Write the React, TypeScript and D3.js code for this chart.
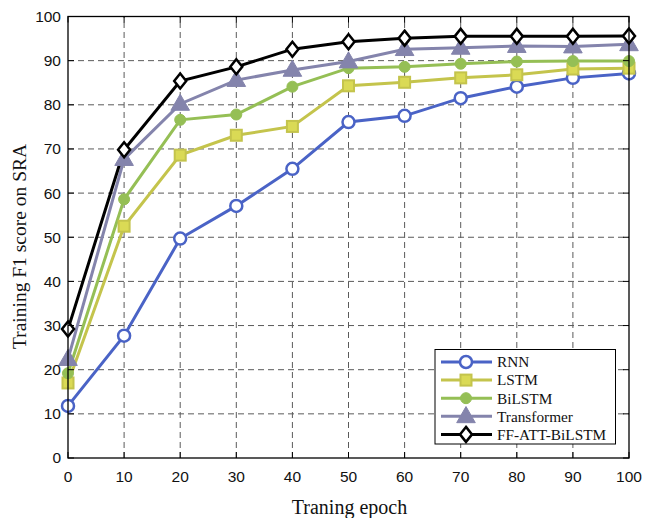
import React from "react";
import * as d3 from "d3";

const epochs = [0, 10, 20, 30, 40, 50, 60, 70, 80, 90, 100];
const rnn = [11.8, 27.7, 49.7, 57.1, 65.5, 76.1, 77.5, 81.5, 84.1, 86.1, 87.1];
const lstm = [17.0, 52.5, 68.6, 73.1, 75.1, 84.3, 85.1, 86.1, 86.8, 88.1, 88.3];
const bilstm = [19.2, 58.6, 76.6, 77.8, 84.1, 88.3, 88.6, 89.3, 89.8, 89.9, 89.9];
const transformer = [22.4, 67.7, 80.2, 85.6, 87.9, 89.8, 92.6, 92.9, 93.3, 93.2, 93.7];
const ffAttBilstm = [29.2, 69.8, 85.4, 88.6, 92.6, 94.3, 95.1, 95.5, 95.5, 95.5, 95.6];
const seriesNames = ["RNN", "LSTM", "BiLSTM", "Transformer", "FF-ATT-BiLSTM"];
const xTicks = [0, 10, 20, 30, 40, 50, 60, 70, 80, 90, 100];
const yTicks = [0, 10, 20, 30, 40, 50, 60, 70, 80, 90, 100];

const W = 645, H = 518;
const margin = { left: 68, right: 16, top: 16.5, bottom: 60 };

const styles = [
  { color: "#4a63c6", marker: "circleOpen" },
  { color: "#c4c44c", marker: "square" },
  { color: "#95bf55", marker: "circle" },
  { color: "#8484ac", marker: "triangle" },
  { color: "#000000", marker: "diamond" },
];

function Marker({ type, x, y, color }: { type: string; x: number; y: number; color: string }) {
  if (type === "circleOpen")
    return <circle cx={x} cy={y} r={6} fill="white" stroke={color} strokeWidth={2.5} />;
  if (type === "circle") return <circle cx={x} cy={y} r={5.5} fill={color} stroke={color} strokeWidth={1} />;
  if (type === "square")
    return <rect x={x - 5.5} y={y - 5.5} width={11} height={11} fill={d3.color(color)!.brighter(0.3).toString()} stroke={color} strokeWidth={2} />;
  if (type === "triangle") {
    const p = d3.symbol(d3.symbolTriangle, 150)()!;
    return <path d={p} transform={`translate(${x},${y + 1})`} fill={color} stroke={color} strokeWidth={1} />;
  }
  // diamond
  const s = 7.5;
  return (
    <path d={`M${x},${y - s}L${x + s * 0.8},${y}L${x},${y + s}L${x - s * 0.8},${y}Z`} fill="white" stroke={color} strokeWidth={2.5} />
  );
}

export default function App() {
  const data = [rnn, lstm, bilstm, transformer, ffAttBilstm];
  const x = d3.scaleLinear().domain([0, 100]).range([margin.left, W - margin.right - 0]);
  const y = d3.scaleLinear().domain([0, 100]).range([H - margin.bottom, margin.top]);
  const x0 = x(0), x1 = x(100), y0 = y(0), y1 = y(100);
  const line = d3.line<number>().x((_, i) => x(epochs[i])).y((d) => y(d));

  return (
    <svg width={W} height={H} style={{ position: "absolute", left: 0, top: 0, background: "white" }}>
      {/* grid */}
      <g stroke="#5a5a5a" strokeWidth={1} strokeDasharray="6,4">
        {xTicks.slice(1, -1).map((t) => (
          <line key={"gx" + t} x1={x(t)} x2={x(t)} y1={y0} y2={y1} />
        ))}
        {yTicks.slice(1, -1).map((t) => (
          <line key={"gy" + t} x1={x0} x2={x1} y1={y(t)} y2={y(t)} />
        ))}
      </g>
      {/* lines */}
      {data.map((d, i) => (
        <path key={"l" + i} d={line(d)!} fill="none" stroke={styles[i].color} strokeWidth={3} />
      ))}
      {data.map((d, i) => (
        <g key={"m" + i}>
          {d.map((v, j) => (
            <Marker key={j} type={styles[i].marker} x={x(epochs[j])} y={y(v)} color={styles[i].color} />
          ))}
        </g>
      ))}
      {/* frame and ticks */}
      <rect x={x0} y={y1} width={x1 - x0} height={y0 - y1} fill="none" stroke="black" strokeWidth={1.3} />
      <g stroke="black" strokeWidth={1}>
        {xTicks.map((t) => (
          <g key={"tx" + t}>
            <line x1={x(t)} x2={x(t)} y1={y0} y2={y0 - 6} />
            <line x1={x(t)} x2={x(t)} y1={y1} y2={y1 + 6} />
          </g>
        ))}
        {yTicks.map((t) => (
          <g key={"ty" + t}>
            <line x1={x0} x2={x0 + 6} y1={y(t)} y2={y(t)} />
            <line x1={x1} x2={x1 - 6} y1={y(t)} y2={y(t)} />
          </g>
        ))}
      </g>
      <g fontFamily="Liberation Sans, Arial, sans-serif" fontSize={15.5} fill="#111">
        {xTicks.map((t) => (
          <text key={"xl" + t} x={x(t)} y={y0 + 23.5} textAnchor="middle">{t}</text>
        ))}
        {yTicks.map((t) => (
          <text key={"yl" + t} x={x0 - 7} y={y(t)} dy="0.35em" textAnchor="end">{t}</text>
        ))}
      </g>
      <text x={349.5} y={513.5} textAnchor="middle" fontFamily="Liberation Serif, Times New Roman, serif" fontSize={20} fill="#111">
        Traning epoch
      </text>
      <text transform={`translate(26,246.5) rotate(-90)`} textAnchor="middle" fontFamily="Liberation Serif, Times New Roman, serif" fontSize={19.5} fill="#111">
        Training F1 score on SRA
      </text>
      {/* legend */}
      <g>
        <rect x={435} y={349.5} width={180.5} height={94.5} fill="white" stroke="black" strokeWidth={1} />
        {seriesNames.map((name, i) => {
          const ly = 362 + i * 18.1;
          return (
            <g key={"lg" + i}>
              <line x1={441} x2={492} y1={ly} y2={ly} stroke={styles[i].color} strokeWidth={3} />
              <Marker type={styles[i].marker} x={466} y={ly} color={styles[i].color} />
              <text x={497} y={ly} dy="0.35em" fontFamily="Liberation Serif, Times New Roman, serif" fontSize={15.3} fill="#111">
                {name}
              </text>
            </g>
          );
        })}
      </g>
    </svg>
  );
}
